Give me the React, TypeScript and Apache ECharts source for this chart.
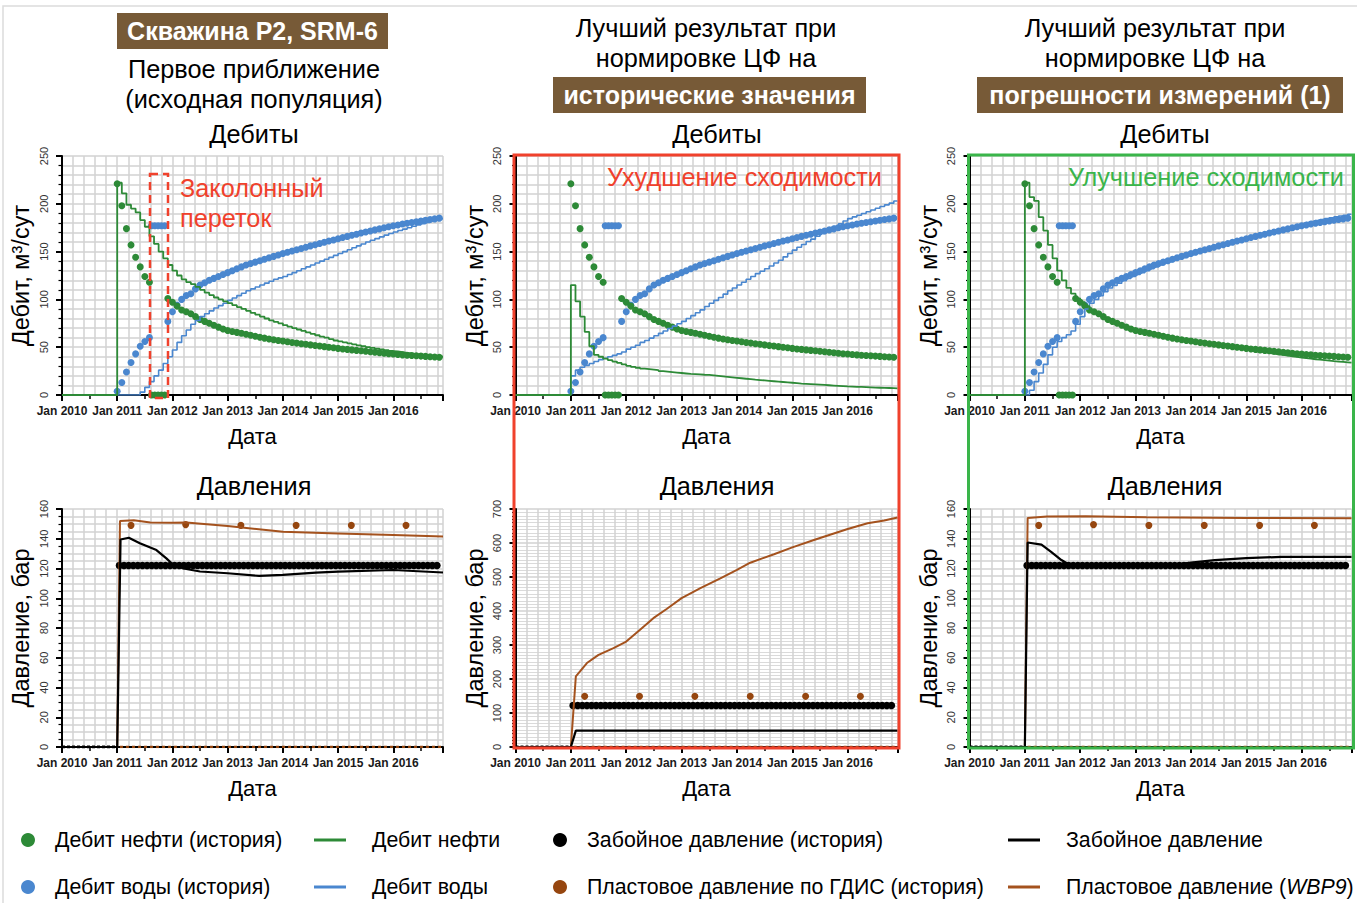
import React, { useEffect, useRef } from 'react';
import * as echarts from 'echarts';

const FONT = '"Liberation Sans", Arial, Helvetica, sans-serif';
const X_MIN = 2010;
const X_MAX = 2016.9;

// ---------- history (same in all three cases) ----------
const HIST_START = 2011; // monthly history starts Jan 2011
const oilHistEarly = [221, 198, 174, 157, 144, 134, 124, 118];
const waterHistEarly = [4, 13, 24, 34, 43, 51, 56, 60];
const gapTimes = [2011.62, 2011.68, 2011.74, 2011.8, 2011.86];
const oilHistGap = [0, 0, 0, 0, 0];
const waterHistGap = [177, 177, 177, 177, 177];
const LATE_START = 2011 + 11 / 12;
const oilHistLate = [101, 97, 93, 89, 87, 85, 82, 79, 77, 75, 73, 71, 69, 67.5, 66.5, 65.5, 64.5, 63.5, 62.5, 61.5, 60.5, 59.5, 58.5, 57.8, 57, 56.4, 55.7, 55, 54.3, 53.6, 53, 52.4, 51.8, 51.2, 50.6, 50, 49.4, 48.8, 48.2, 47.7, 47.2, 46.7, 46.2, 45.7, 45.2, 44.7, 44.2, 43.7, 43.2, 42.8, 42.4, 42, 41.6, 41.3, 41, 40.7, 40.4, 40.1, 39.8, 39.5];
const waterHistLate = [77, 87, 94, 100, 104, 106, 111, 115, 117.5, 120, 122, 124, 126, 128, 130, 132, 134, 136, 137.5, 139, 140.5, 142, 143.5, 145, 146.5, 148, 149.3, 150.6, 152, 153.3, 154.6, 156, 157.2, 158.4, 159.7, 161, 162.2, 163.5, 164.7, 165.9, 167.1, 168.2, 169.4, 170.5, 171.6, 172.7, 173.8, 174.9, 176, 177, 177.9, 178.8, 179.6, 180.4, 181.2, 182, 182.8, 183.5, 184.2, 185];

const BHP_HIST_START = 2011.04;
const bhpHist = [122, 122, 122, 122, 122, 122, 122, 122, 122, 122, 122, 122, 122, 122, 122, 122, 122, 122, 122, 122, 122, 122, 122, 122, 122, 122, 122, 122, 122, 122, 122, 122, 122, 122, 122, 122, 122, 122, 122, 122, 122, 122, 122, 122, 122, 122, 122, 122, 122, 122, 122, 122, 122, 122, 122, 122, 122, 122, 122, 122, 122, 122, 122, 122, 122, 122, 122, 122, 122, 122];
const bhpZeroT = [2010, 2011.0];
const bhpZeroV = [0, 0];
const gdisHistT = [2011.25, 2012.24, 2013.24, 2014.24, 2015.24, 2016.23];
const gdisHistV = [149, 149.5, 149, 149, 149, 149];
const gdisZeroT = [2011.05, 2016.9];
const gdisZeroV = [0, 0];

// ---------- model rates (monthly from Jan 2011) ----------
const MODEL_START = 2011;
const p1OilModel = [222, 211, 199, 195, 191, 183, 176, 166, 158, 150, 143, 136, 130, 125, 121, 118, 116, 113, 110, 107, 104.5, 102, 100, 98, 96, 94, 92, 90, 88, 86, 84, 82, 80, 78, 76.5, 75, 73, 71.5, 70, 68.5, 67, 65.5, 64, 62.5, 61, 60, 58.5, 57, 56, 55, 54, 53, 52, 51, 50, 49.2, 48.4, 47.6, 46.8, 46, 45.5, 44.8, 44.1, 43.4, 42.7, 42, 41.5, 41, 40.5, 40.2, 40];
const p1WaterModel = [0, 0, 0, 0, 0, 3, 8, 14, 20, 26, 33, 40, 47, 55, 62, 68, 74, 78, 82, 85, 88, 91, 93.5, 96, 99, 101.5, 104, 106.5, 109, 111, 113, 115, 117, 119, 121, 122.5, 124, 126, 128, 130, 132, 134, 136, 138, 140, 142, 144, 146, 148, 150, 152, 154, 156, 158, 160, 161.8, 163.6, 165.4, 167.2, 169, 170.5, 172, 173.5, 175, 176.5, 178, 179.3, 180.6, 181.9, 183.2, 184.5];
const p2OilModel = [115, 98, 82, 66, 51, 42, 40, 38, 36.5, 35, 33.5, 32, 30.5, 29.5, 28.5, 27.5, 27, 26.5, 26, 25, 24.5, 24, 23.5, 23, 22.5, 22, 21.8, 21.5, 21.2, 21, 20.5, 20, 19.5, 19, 18.5, 18, 17.5, 17, 16.5, 16, 15.6, 15.2, 14.8, 14.4, 14, 13.6, 13.2, 12.8, 12.4, 12, 11.7, 11.4, 11.1, 10.8, 10.5, 10.2, 9.9, 9.6, 9.3, 9, 8.8, 8.6, 8.4, 8.2, 8, 7.8, 7.6, 7.4, 7.3, 7.2, 7];
const p2WaterModel = [20, 26, 29, 31, 33, 35, 37, 38.5, 40, 41.5, 43, 45, 48, 50, 52, 55, 57, 59.5, 62, 64.5, 67, 69.5, 72, 74.5, 77, 80, 83, 86, 89, 92.5, 96, 99, 102, 105.5, 109, 112, 115, 118, 121, 124, 127, 129.5, 132, 135, 138, 141, 144.5, 148, 151.5, 154.5, 157.5, 160.5, 163, 166, 169, 171.5, 174, 176.5, 179, 182, 184.5, 186.3, 188.1, 189.9, 191.7, 193.5, 195.3, 197.1, 198.9, 200.7, 203];
const p3OilModel = [222, 207, 203, 186, 172, 157, 143, 130, 120, 112, 106, 101, 97, 93, 89, 86, 83, 80, 78, 76, 74, 72.5, 71, 69.5, 68, 67, 66, 65, 64, 63, 62, 61, 60, 59, 58.2, 57.4, 56.5, 55.7, 54.9, 54.1, 53.3, 52.5, 51.7, 50.9, 50.1, 49.3, 48.5, 47.7, 47, 46.2, 45.4, 44.7, 44, 43.3, 42.6, 41.9, 41.2, 40.5, 39.8, 39.2, 38.6, 38, 37.4, 36.9, 36.4, 35.9, 35.4, 35, 34.6, 34.2, 33.8];
const p3WaterModel = [0, 5, 14, 23, 32, 42, 50, 56, 60, 63, 67, 74, 82, 90, 96, 100, 104, 108, 112, 114.5, 117, 119.5, 122, 124, 126, 128, 130, 132, 134, 136, 138, 139.5, 141, 142.5, 144, 145.5, 147, 148.5, 150, 151.5, 153, 154.5, 156, 157.5, 159, 160.5, 162, 163.3, 164.6, 166, 167.3, 168.6, 170, 171.2, 172.4, 173.6, 174.8, 176, 177.1, 178.2, 179.3, 180.4, 181.5, 182.5, 183.5, 184.5, 185.4, 186.3, 187.2, 188.1, 189];

// ---------- model pressures ----------
const p1BhpT = [2010, 2011.0, 2011.06, 2011.21, 2011.41, 2011.71, 2011.89, 2012.0, 2012.2, 2012.5, 2013.0, 2013.57, 2014.0, 2014.6, 2015.0, 2016.0, 2016.9];
const p1BhpV = [0, 0, 139.5, 140.7, 137, 132.4, 126.8, 123, 120, 118, 116.8, 115, 115.7, 117.2, 117.9, 119, 117.3];
const p1WbpT = [2010, 2011.0, 2011.05, 2011.3, 2011.6, 2012.0, 2012.25, 2013.0, 2014.0, 2015.0, 2016.0, 2016.9];
const p1WbpV = [0, 0, 152, 152.5, 151, 150.8, 151, 148.5, 144.7, 143.6, 142.5, 141.5];
const p2BhpT = [2010, 2011.0, 2011.09, 2016.9];
const p2BhpV = [0, 0, 48, 48];
const p2WbpT = [2011.0, 2011.09, 2011.29, 2011.5, 2011.77, 2012.0, 2012.25, 2012.49, 2012.73, 2013.0, 2013.34, 2013.7, 2014.0, 2014.24, 2014.67, 2015.0, 2015.39, 2015.75, 2016.0, 2016.36, 2016.66, 2016.9];
const p2WbpV = [0, 208, 247, 271, 291, 310, 345, 379, 406, 438, 467, 496, 521, 542, 567, 587, 609, 628, 641, 658, 666, 675];
const p3BhpT = [2010, 2011.0, 2011.05, 2011.3, 2011.48, 2011.66, 2011.78, 2012.0, 2013.0, 2013.7, 2014.0, 2014.43, 2015.0, 2015.63, 2016.9];
const p3BhpV = [0, 0, 137.5, 136, 131, 125.7, 123, 122, 122, 122.5, 124, 125.6, 127, 127.8, 127.8];
const p3WbpT = [2011.0, 2011.05, 2011.4, 2012.1, 2013.2, 2015.0, 2016.9];
const p3WbpV = [0, 154, 155, 155.2, 154.5, 154, 153.8];

// ---------- texts ----------
const caseTitles = ['Скважина P2, SRM-6', 'исторические значения', 'погрешности измерений (1)'];
const legendItems = [
  ['Дебит нефти (история)', 'Дебит нефти', 'Забойное давление (история)', 'Забойное давление'],
  ['Дебит воды (история)', 'Дебит воды', 'Пластовое давление по ГДИС (история)', 'Пластовое давление ({i|WBP9})'],
];

const C_OIL = '#2d8a37';
const C_WATER = '#4a87cf';
const C_BROWN = '#a4521e';
const C_BROWN_DOT = '#96460f';
const C_HEADER = '#775a37';
const C_RED = '#f0412c';
const C_GREEN = '#3ab54a';
const C_GRID = '#d2d2d2';

const monthly = (start: number, vals: number[]) => vals.map((v, i) => [start + i / 12, v]);
const pairs = (t: number[], v: number[]) => t.map((x, i) => [x, v[i]]);
const modelLine = (vals: number[]) => [[X_MIN, 0], ...monthly(MODEL_START, vals), [X_MAX, vals[vals.length - 1]]];

function buildOption() {
  const cols = [62, 515.5, 969.5];
  const widths = [381, 382, 382];
  const grids: any[] = [];
  const xAxes: any[] = [];
  const yAxes: any[] = [];
  for (let r = 0; r < 2; r++) {
    for (let c = 0; c < 3; c++) {
      grids.push({
        left: cols[c], top: r === 0 ? 156 : 509, width: widths[c], height: r === 0 ? 239 : 238,
        containLabel: false, outerBoundsMode: 'none',
      });
    }
  }
  for (let g = 0; g < 6; g++) {
    xAxes.push({
      type: 'value', gridIndex: g, min: X_MIN, max: X_MAX, interval: 1,
      axisLine: { show: true, onZero: false, lineStyle: { color: '#000', width: 2 } },
      axisTick: { show: true, length: 6, lineStyle: { color: '#000', width: 2 } },
      minorTick: { show: true, splitNumber: 2, length: 4, lineStyle: { color: '#000', width: 1.5 } },
      splitLine: { show: false },
      axisLabel: {
        fontSize: 12, fontWeight: 'bold', color: '#1a1a1a', fontFamily: FONT, margin: 10,
        formatter: (v: number) => (Math.abs(v - Math.round(v)) < 1e-6 ? 'Jan ' + Math.round(v) : ''),
      },
      name: 'Дата', nameLocation: 'middle', nameGap: 30,
      nameTextStyle: { fontSize: 22, color: '#000', fontFamily: FONT },
    });
  }
  for (let g = 0; g < 6; g++) {
    xAxes.push({
      type: 'value', gridIndex: g, min: X_MIN, max: X_MAX, interval: 0.2, position: 'bottom',
      axisLine: { show: false }, axisTick: { show: false }, axisLabel: { show: false },
      splitLine: { show: true, lineStyle: { color: C_GRID, width: 1.5 } }, silent: true,
    });
  }
  for (let g = 0; g < 6; g++) {
    const isRate = g < 3;
    const big = g === 4;
    yAxes.push({
      type: 'value', gridIndex: g, min: 0, max: isRate ? 250 : big ? 700 : 160,
      interval: isRate ? 50 : big ? 100 : 20,
      axisLine: { show: true, onZero: false, lineStyle: { color: '#000', width: 2 } },
      axisTick: { show: true, length: 6, lineStyle: { color: '#000', width: 2 } },
      minorTick: { show: true, splitNumber: isRate ? 5 : big ? 10 : 4, length: 3.5, lineStyle: { color: '#000', width: 1.2 } },
      splitLine: { show: true, lineStyle: { color: C_GRID, width: 1.5 } },
      minorSplitLine: { show: true, lineStyle: { color: big ? '#dadada' : C_GRID, width: big ? 1.2 : 1.5 } },
      axisLabel: { rotate: 90, fontSize: 11, color: '#333', fontFamily: FONT, margin: 13 },
      name: isRate ? 'Дебит, м³/сут' : 'Давление, бар', nameLocation: 'middle', nameGap: 29,
      nameTextStyle: { fontSize: 23.5, color: '#000', fontFamily: FONT },
    });
  }

  const oilHistData = [...monthly(HIST_START, oilHistEarly), ...pairs(gapTimes, oilHistGap), ...monthly(LATE_START, oilHistLate)];
  const waterHistData = [...monthly(HIST_START, waterHistEarly), ...pairs(gapTimes, waterHistGap), ...monthly(LATE_START, waterHistLate)];
  const bhpHistData = monthly(BHP_HIST_START, bhpHist);
  const gdisData = pairs(gdisHistT, gdisHistV);

  const rateModels = [
    [p1OilModel, p1WaterModel],
    [p2OilModel, p2WaterModel],
    [p3OilModel, p3WaterModel],
  ];
  const presModels = [
    [pairs(p1BhpT, p1BhpV), pairs(p1WbpT, p1WbpV)],
    [pairs(p2BhpT, p2BhpV), pairs(p2WbpT, p2WbpV)],
    [pairs(p3BhpT, p3BhpV), pairs(p3WbpT, p3WbpV)],
  ];

  const series: any[] = [];
  for (let c = 0; c < 3; c++) {
    const g = c;
    series.push(
      { type: 'scatter', name: 'Дебит воды (история)', xAxisIndex: g, yAxisIndex: g, data: waterHistData, symbolSize: 7, itemStyle: { color: C_WATER, opacity: 1 }, z: 3 },
      { type: 'scatter', name: 'Дебит нефти (история)', xAxisIndex: g, yAxisIndex: g, data: oilHistData, symbolSize: 7, itemStyle: { color: C_OIL, opacity: 1 }, z: 3 },
      { type: 'line', name: 'Дебит воды', xAxisIndex: g, yAxisIndex: g, data: modelLine(rateModels[c][1]), step: 'end', showSymbol: false, lineStyle: { color: C_WATER, width: 1.6 }, z: 4 },
      { type: 'line', name: 'Дебит нефти', xAxisIndex: g, yAxisIndex: g, data: modelLine(rateModels[c][0]), step: 'end', showSymbol: false, lineStyle: { color: C_OIL, width: 1.8 }, z: 4 },
    );
  }
  for (let c = 0; c < 3; c++) {
    const g = 3 + c;
    series.push(
      { type: 'line', name: 'ГДИС 0', xAxisIndex: g, yAxisIndex: g, data: pairs(gdisZeroT, gdisZeroV), showSymbol: false, lineStyle: { color: C_BROWN_DOT, width: 2.5, type: [3, 3] }, z: 3 },
      { type: 'line', name: 'Забой 0', xAxisIndex: g, yAxisIndex: g, data: pairs(bhpZeroT, bhpZeroV), showSymbol: false, lineStyle: { color: '#000', width: 3, type: [3, 2] }, z: 3 },
      { type: 'scatter', name: 'Забойное давление (история)', xAxisIndex: g, yAxisIndex: g, data: bhpHistData, symbolSize: 7.5, itemStyle: { color: '#000', opacity: 1 }, z: 3 },
      { type: 'scatter', name: 'Пластовое давление по ГДИС (история)', xAxisIndex: g, yAxisIndex: g, data: gdisData, symbolSize: 7, itemStyle: { color: C_BROWN_DOT, opacity: 1 }, z: 3 },
      { type: 'line', name: 'Пластовое давление (WBP9)', xAxisIndex: g, yAxisIndex: g, data: presModels[c][1], showSymbol: false, lineStyle: { color: C_BROWN, width: 2 }, z: 4 },
      { type: 'line', name: 'Забойное давление', xAxisIndex: g, yAxisIndex: g, data: presModels[c][0], showSymbol: false, lineStyle: { color: '#000', width: 2.2 }, z: 4 },
    );
  }

  const txt = (text: string, x: number, y: number, size: number, fill = '#000', weight = 'normal', align = 'center', extra: any = {}) => ({
    type: 'text', x, y, z: 50, silent: true,
    style: {
      text, fill, fontSize: size, fontWeight: weight, fontFamily: FONT,
      align, textAlign: align, verticalAlign: 'middle', textVerticalAlign: 'middle', ...extra,
    },
  });
  const box = (x: number, y: number, w: number, h: number) => ({
    type: 'rect', z: 49, silent: true, shape: { x, y, width: w, height: h }, style: { fill: C_HEADER },
  });

  const H = 25.3;
  const graphic: any[] = [
    { type: 'rect', z: 1, silent: true, shape: { x: 3, y: 6, width: 1400, height: 1000 }, style: { fill: 'none', stroke: '#dcdcdc', lineWidth: 1.5 } },
    box(117, 13, 271, 36),
    txt(caseTitles[0], 252.5, 31, 25, '#fff', 'bold'),
    txt('Первое приближение', 254, 69, H),
    txt('(исходная популяция)', 254, 99, H),
    txt('Лучший результат при', 706, 28, H),
    txt('нормировке ЦФ на', 706, 58, H),
    box(553, 77, 313, 36),
    txt(caseTitles[1], 709.5, 95, 25, '#fff', 'bold'),
    txt('Лучший результат при', 1155, 28, H),
    txt('нормировке ЦФ на', 1155, 58, H),
    box(977, 77, 366, 36),
    txt(caseTitles[2], 1160, 95, 25, '#fff', 'bold'),
    txt('Дебиты', 254, 134, H),
    txt('Дебиты', 717, 134, H),
    txt('Дебиты', 1165, 134, H),
    txt('Давления', 254, 486, H),
    txt('Давления', 717, 486, H),
    txt('Давления', 1165, 486, H),
    txt('Заколонный', 180, 188, H, C_RED, 'normal', 'left'),
    txt('переток', 180, 218, H, C_RED, 'normal', 'left'),
    txt('Ухудшение сходимости', 607, 177, H, C_RED, 'normal', 'left'),
    txt('Улучшение сходимости', 1068, 177, H, C_GREEN, 'normal', 'left'),
    { type: 'rect', z: 60, silent: true, shape: { x: 150, y: 174, width: 18, height: 224 }, style: { fill: 'none', stroke: C_RED, lineWidth: 2.5, lineDash: [8, 5] } },
    { type: 'rect', z: 60, silent: true, shape: { x: 514, y: 155, width: 385, height: 593 }, style: { fill: 'none', stroke: C_RED, lineWidth: 3 } },
    { type: 'rect', z: 60, silent: true, shape: { x: 968.5, y: 155, width: 385, height: 593 }, style: { fill: 'none', stroke: C_GREEN, lineWidth: 3 } },
  ];

  const legendColors = [
    ['#2d8a37', '#2d8a37', '#000', '#000'],
    ['#4a87cf', '#4a87cf', '#96460f', '#a4521e'],
  ];
  const rowsY = [840, 887];
  const markX = [28, 330, 560, 1024];
  const textX = [55, 372, 587, 1066];
  for (let r = 0; r < 2; r++) {
    for (let k = 0; k < 4; k++) {
      const col = legendColors[r][k];
      if (k % 2 === 0) {
        graphic.push({ type: 'circle', z: 50, silent: true, shape: { cx: markX[k], cy: rowsY[r], r: 7 }, style: { fill: col } });
      } else {
        graphic.push({ type: 'line', z: 50, silent: true, shape: { x1: markX[k] - 16, y1: rowsY[r], x2: markX[k] + 16, y2: rowsY[r] }, style: { stroke: col, lineWidth: 3 } });
      }
      graphic.push(txt(legendItems[r][k], textX[k], rowsY[r], 21.3, '#000', 'normal', 'left', {
        rich: { i: { fontStyle: 'italic', fontSize: 21.3, fontFamily: FONT, fill: '#000' } },
      }));
    }
  }

  return {
    animation: false,
    backgroundColor: '#ffffff',
    textStyle: { fontFamily: FONT },
    grid: grids,
    xAxis: xAxes,
    yAxis: yAxes,
    series,
    graphic,
  };
}

export default function App() {
  const ref = useRef<HTMLDivElement>(null);
  useEffect(() => {
    if (!ref.current) return;
    const chart = echarts.init(ref.current, undefined, { renderer: 'svg' });
    chart.setOption(buildOption() as any);
    return () => chart.dispose();
  }, []);
  return <div ref={ref} style={{ position: 'absolute', left: 0, top: 0, width: 1357, height: 903 }} />;
}
